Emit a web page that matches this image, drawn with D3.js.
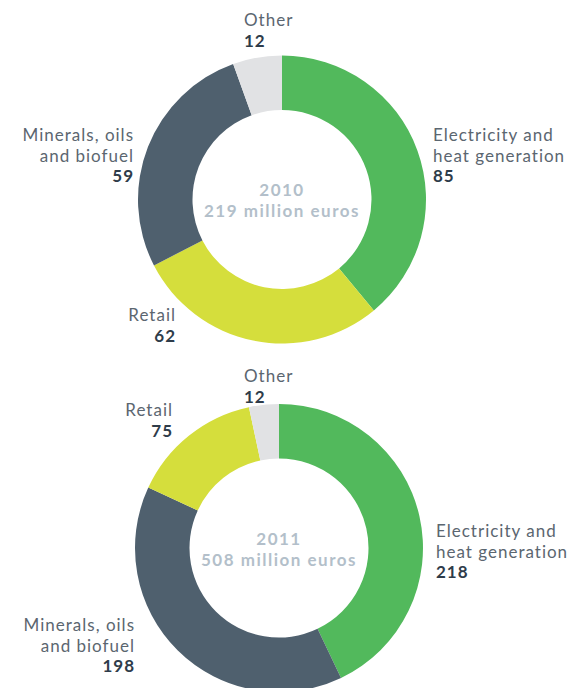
<!DOCTYPE html>
<html>
<head>
<meta charset="utf-8">
<script src="https://cdn.jsdelivr.net/npm/d3@7"></script>
<style>
  html, body { margin: 0; padding: 0; background: #ffffff; }
  svg { display: block; }
  .name { font-family: Lato, sans-serif; font-size: 17px; letter-spacing: 1px; fill: #5b6670; }
  .val { font-family: Lato, sans-serif; font-size: 17px; font-weight: 700; letter-spacing: 1px; fill: #2e3c4a; }
  .center { font-family: Lato, sans-serif; font-size: 17px; font-weight: 700; letter-spacing: 1.5px; fill: #b3bfca; }
</style>
</head>
<body>
<svg id="chart" width="574" height="688"></svg>
<script>
// ---- data ----
const categories2010 = ["Electricity and\nheat generation", "Retail", "Minerals, oils\nand biofuel", "Other"];
const values2010 = [85, 62, 59, 12];
const labels2010 = ["85", "62", "59", "12"];
const year2010 = "2010";
const total2010 = "219 million euros";

const categories2011 = ["Electricity and\nheat generation", "Minerals, oils\nand biofuel", "Retail", "Other"];
const values2011 = [218, 198, 75, 17];   // slice sizes as drawn
const labels2011 = ["218", "198", "75", "12"];
const year2011 = "2011";
const total2011 = "508 million euros";

const colorOf = {
  "Electricity and\nheat generation": "#52b95c",
  "Retail": "#d5de3c",
  "Minerals, oils\nand biofuel": "#4f606e",
  "Other": "#e1e2e4"
};

// ---- layout (positions of labels, not data) ----
const charts = [
  { cx: 282, cy: 199.5, cats: categories2010, vals: values2010, labs: labels2010, year: year2010, total: total2010,
    labelPos: [
      { x: 433, y: 141, anchor: "start" },
      { x: 133, y: 321, anchor: "end", dx: 42 },
      { x: 133, y: 141, anchor: "end" },
      { x: 244, y: 26, anchor: "start" }
    ] },
  { cx: 279, cy: 548, cats: categories2011, vals: values2011, labs: labels2011, year: year2011, total: total2011,
    labelPos: [
      { x: 436, y: 537, anchor: "start" },
      { x: 134, y: 631, anchor: "end" },
      { x: 172, y: 416, anchor: "end" },
      { x: 244, y: 382, anchor: "start" }
    ] }
];

const svg = d3.select("#chart");
const pie = d3.pie().sort(null).value(d => d.v).startAngle(0).endAngle(2 * Math.PI);
const arc = d3.arc().innerRadius(89.5).outerRadius(144);
const lineH = 20.5;

charts.forEach(ch => {
  const data = ch.cats.map((c, i) => ({ c, v: ch.vals[i], lab: ch.labs[i], pos: ch.labelPos[i] }));
  const g = svg.append("g").attr("transform", `translate(${ch.cx},${ch.cy})`);
  g.selectAll("path").data(pie(data)).join("path")
    .attr("d", arc)
    .attr("fill", d => colorOf[d.data.c]);

  g.append("text").attr("class", "center").attr("text-anchor", "middle").attr("y", -3.5).text(ch.year);
  g.append("text").attr("class", "center").attr("text-anchor", "middle").attr("y", 17.5).text(ch.total);

  data.forEach(d => {
    const lines = d.c.split("\n");
    const x = d.pos.x + (d.pos.dx || 0);
    // with letter-spacing, end-anchored text carries trailing spacing; compensate
    const shift = d.pos.anchor === "end" ? 1 : 0;
    const t = svg.append("text").attr("text-anchor", d.pos.anchor);
    lines.forEach((ln, i) => {
      t.append("tspan").attr("class", "name").attr("x", x + shift).attr("y", d.pos.y + i * lineH).text(ln);
    });
    t.append("tspan").attr("class", "val").attr("x", x + shift).attr("y", d.pos.y + lines.length * lineH).text(d.lab);
  });
});
</script>
</body>
</html>
